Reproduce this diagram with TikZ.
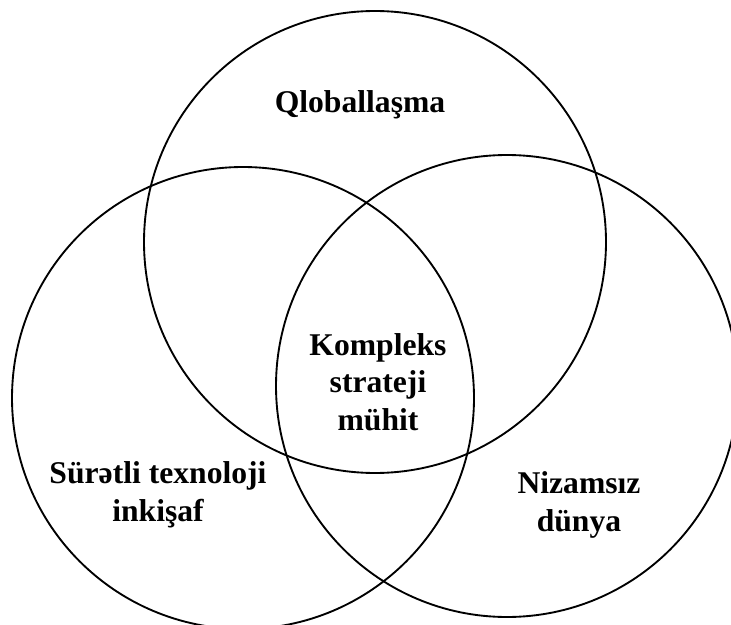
\documentclass[tikz,border=0pt]{standalone}
\usepackage{fontspec}
\setmainfont{Liberation Serif}
\usetikzlibrary{positioning}

\begin{document}
\begin{tikzpicture}[
  x=0.03cm, y=-0.03cm,
  align=center,
  font=\bfseries\fontsize{27}{32}\selectfont,
  % Estilos
  ring/.style={draw, line width=1.6pt},
  label/.style={inner sep=0pt}
]

  % ==========================================
  % FRAME
  % ==========================================
  \clip (0,0) rectangle (731,625);

  % ==========================================
  % CIRCLES
  % ==========================================
  \draw[ring] (375,242) circle (231);
  \draw[ring] (243,398) circle (231);
  \draw[ring] (507,386) circle (231);

  % ==========================================
  % LABELS
  % ==========================================
  \node[label] (qlob) at (360,105) {Qloballaşma};
  \node[label] (kompleks) at (378,382) {Kompleks\\strateji\\mühit};
  \node[label] (texno) at (158,495) {Sürətli texnoloji\\inkişaf};
  \node[label] (nizam) at (579,505) {Nizamsız\\dünya};

\end{tikzpicture}
\end{document}
